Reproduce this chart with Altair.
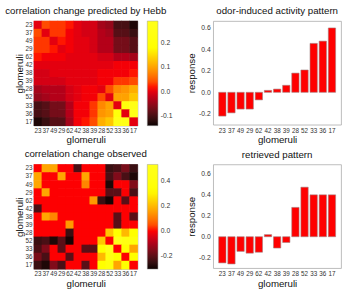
import altair as alt
import pandas as pd

glomeruli = ["23", "37", "49", "29", "62", "42", "38", "39", "28", "52", "33", "36", "17"]

# odor-induced response of each glomerulus
odor_response = [-0.22, -0.19, -0.155, -0.155, -0.07, 0.018, 0.03, 0.065,
                 0.178, 0.207, 0.453, 0.474, 0.596]
# pattern retrieved by the network
retrieved_response = [-0.25, -0.26, -0.14, -0.157, -0.148, 0.02, -0.108, -0.055,
                      0.28, 0.473, 0.40, 0.40, 0.40]

# correlation change predicted by Hebbian learning (rows/cols in glomeruli order)
hebb_change = [
    [0.00, 0.04, 0.03, 0.03, 0.02, 0.00, -0.01, -0.01, -0.04, -0.05, -0.10, -0.10, -0.13],
    [0.04, 0.00, 0.03, 0.03, 0.01, 0.00, -0.01, -0.01, -0.03, -0.04, -0.09, -0.09, -0.11],
    [0.03, 0.03, 0.00, 0.02, 0.01, 0.00, 0.00, -0.01, -0.03, -0.03, -0.07, -0.07, -0.09],
    [0.03, 0.03, 0.02, 0.00, 0.01, 0.00, 0.00, -0.01, -0.03, -0.03, -0.07, -0.07, -0.09],
    [0.02, 0.01, 0.01, 0.01, 0.00, 0.00, 0.00, 0.00, -0.01, -0.01, -0.03, -0.03, -0.04],
    [0.00, 0.00, 0.00, 0.00, 0.00, 0.00, 0.00, 0.00, 0.00, 0.00, 0.01, 0.01, 0.01],
    [-0.01, -0.01, 0.00, 0.00, 0.00, 0.00, 0.00, 0.00, 0.01, 0.01, 0.01, 0.01, 0.02],
    [-0.01, -0.01, -0.01, -0.01, 0.00, 0.00, 0.00, 0.00, 0.01, 0.01, 0.03, 0.03, 0.04],
    [-0.04, -0.03, -0.03, -0.03, -0.01, 0.00, 0.01, 0.01, 0.00, 0.04, 0.08, 0.09, 0.11],
    [-0.05, -0.04, -0.03, -0.03, -0.01, 0.00, 0.01, 0.01, 0.04, 0.00, 0.10, 0.10, 0.13],
    [-0.10, -0.09, -0.07, -0.07, -0.03, 0.01, 0.01, 0.03, 0.08, 0.10, 0.00, 0.22, 0.27],
    [-0.10, -0.09, -0.07, -0.07, -0.03, 0.01, 0.01, 0.03, 0.09, 0.10, 0.22, 0.00, 0.28],
    [-0.13, -0.11, -0.09, -0.09, -0.04, 0.01, 0.02, 0.04, 0.11, 0.13, 0.27, 0.28, 0.00],
]

# measured correlation change
observed_change = [
    [0.00, 0.17, 0.17, 0.00, 0.00, -0.22, 0.00, 0.00, 0.00, -0.24, -0.22, -0.16, -0.24],
    [0.17, 0.00, 0.00, 0.17, 0.00, 0.00, 0.17, 0.00, 0.00, -0.22, -0.15, -0.22, -0.28],
    [0.17, 0.00, 0.00, 0.00, 0.00, 0.00, 0.12, 0.00, 0.00, -0.28, 0.00, 0.00, -0.15],
    [0.00, 0.17, 0.00, 0.00, 0.00, 0.00, 0.00, 0.00, 0.00, -0.20, -0.20, 0.00, -0.22],
    [0.00, 0.00, 0.00, 0.00, 0.00, 0.00, 0.00, 0.15, -0.24, -0.29, 0.00, -0.20, 0.00],
    [-0.22, 0.00, 0.00, 0.00, 0.00, 0.00, 0.00, 0.00, 0.00, 0.00, 0.00, 0.00, 0.00],
    [0.00, 0.17, 0.12, 0.00, 0.00, 0.00, 0.00, 0.00, 0.00, 0.00, -0.20, 0.00, -0.20],
    [0.00, 0.00, 0.00, 0.00, 0.15, 0.00, 0.00, 0.00, 0.00, 0.00, -0.20, 0.00, 0.00],
    [0.00, 0.00, 0.00, 0.00, -0.24, 0.00, 0.00, 0.00, 0.00, 0.22, 0.32, 0.20, 0.32],
    [-0.24, -0.22, -0.28, -0.20, -0.29, 0.00, 0.00, 0.00, 0.22, 0.00, 0.53, 0.45, 0.40],
    [-0.22, -0.15, 0.00, -0.20, 0.00, 0.00, -0.20, -0.20, 0.32, 0.53, 0.00, 0.32, 0.17],
    [-0.16, -0.22, 0.00, 0.00, -0.20, 0.00, 0.00, 0.00, 0.20, 0.45, 0.32, 0.00, 0.32],
    [-0.24, -0.28, -0.15, -0.22, 0.00, 0.00, -0.20, 0.00, 0.32, 0.40, 0.17, 0.32, 0.00],
]

FONT = "Liberation Sans"
HOT = ["#0b0000", "#ff0000", "#ffff00", "#ffffff"]
MINUS = "replace(datum.label, '\u2212', '-')"


def hot_domain(lo, hi):
    # black -> red -> yellow -> white stops of the "hot" colormap
    span = hi - lo
    return [lo, lo + 0.365 * span, lo + 0.746 * span, hi]


def heatmap(matrix, title, lo, hi, ticks):
    records = [
        {"row": r, "col": c, "value": matrix[i][j]}
        for i, r in enumerate(glomeruli)
        for j, c in enumerate(glomeruli)
    ]
    axis_style = dict(labelFontSize=6.5, labelColor="#333", titleFontSize=10,
                      titleFontWeight="normal", ticks=False, domain=False,
                      labelPadding=2, titlePadding=1)
    band = alt.Scale(paddingInner=0, paddingOuter=0)
    # cells drawn slightly larger than their band so neighbouring cells leave no seam
    return alt.Chart(pd.DataFrame(records)).mark_rect(width=8.8, height=8.9).encode(
        x=alt.X("col:N", sort=glomeruli, title="glomeruli", scale=band,
                axis=alt.Axis(labelAngle=0, **axis_style)),
        y=alt.Y("row:N", sort=glomeruli, title="glomeruli", scale=band,
                axis=alt.Axis(**axis_style)),
        color=alt.Color("value:Q",
                        scale=alt.Scale(domain=hot_domain(lo, hi), range=HOT, clamp=True),
                        legend=alt.Legend(title=None, orient="right", offset=10,
                                          gradientLength=108, gradientThickness=11,
                                          gradientStrokeColor="#999", gradientStrokeWidth=0.5,
                                          labelFontSize=7, labelColor="#333", labelOffset=3,
                                          values=ticks, labelExpr=MINUS)),
    ).properties(
        width=107, height=108,
        title=alt.TitleParams(title, fontSize=10, fontWeight="normal", offset=5),
    )


def bars(values, title, ymax):
    df = pd.DataFrame({"glomerulus": glomeruli, "response": values})
    return alt.Chart(df).mark_bar(color="#ff0000", stroke="#a08080", strokeWidth=0.6).encode(
        x=alt.X("glomerulus:N", sort=glomeruli, title="glomeruli",
                scale=alt.Scale(paddingInner=0.2, paddingOuter=0.6),
                axis=alt.Axis(labelAngle=0, labelFontSize=6.5, labelColor="#333",
                              ticks=False, domain=False, titleFontSize=10,
                              titleFontWeight="normal", labelPadding=3, titlePadding=1)),
        y=alt.Y("response:Q", title="response",
                scale=alt.Scale(domain=[-0.3, ymax], nice=False, zero=False),
                axis=alt.Axis(values=[-0.2, 0, 0.2, 0.4, 0.6], format=".1f",
                              labelExpr=MINUS, labelFontSize=7, labelColor="#333",
                              ticks=False, domain=False, grid=False, titleFontSize=10,
                              titleFontWeight="normal", labelPadding=3, titlePadding=2)),
    ).properties(
        width=132, height=107,
        title=alt.TitleParams(title, fontSize=10, fontWeight="normal", offset=5),
    )


top = alt.hconcat(
    heatmap(hebb_change, "correlation change predicted by Hebb", -0.14, 0.29, [-0.1, 0, 0.1, 0.2]),
    bars(odor_response, "odor-induced activity pattern", 0.66),
    spacing=12,
).resolve_scale(color="independent", x="independent", y="independent")
bottom = alt.hconcat(
    heatmap(observed_change, "correlation change observed", -0.3, 0.53, [-0.2, 0, 0.2, 0.4]),
    bars(retrieved_response, "retrieved pattern", 0.69),
    spacing=12,
).resolve_scale(color="independent", x="independent", y="independent")

chart = alt.vconcat(top, bottom, spacing=4).resolve_scale(
    color="independent", x="independent", y="independent"
).properties(
    padding={"left": 4, "top": 1, "right": 2, "bottom": 2}
).configure(
    font=FONT,
).configure_view(
    stroke="#aaa", strokeWidth=0.8,
).configure_title(
    font=FONT, color="#111",
).configure_axis(
    labelFont=FONT, titleFont=FONT, titleColor="#111",
)

chart.save("out.html", embed_options={"renderer": "svg", "actions": False})
